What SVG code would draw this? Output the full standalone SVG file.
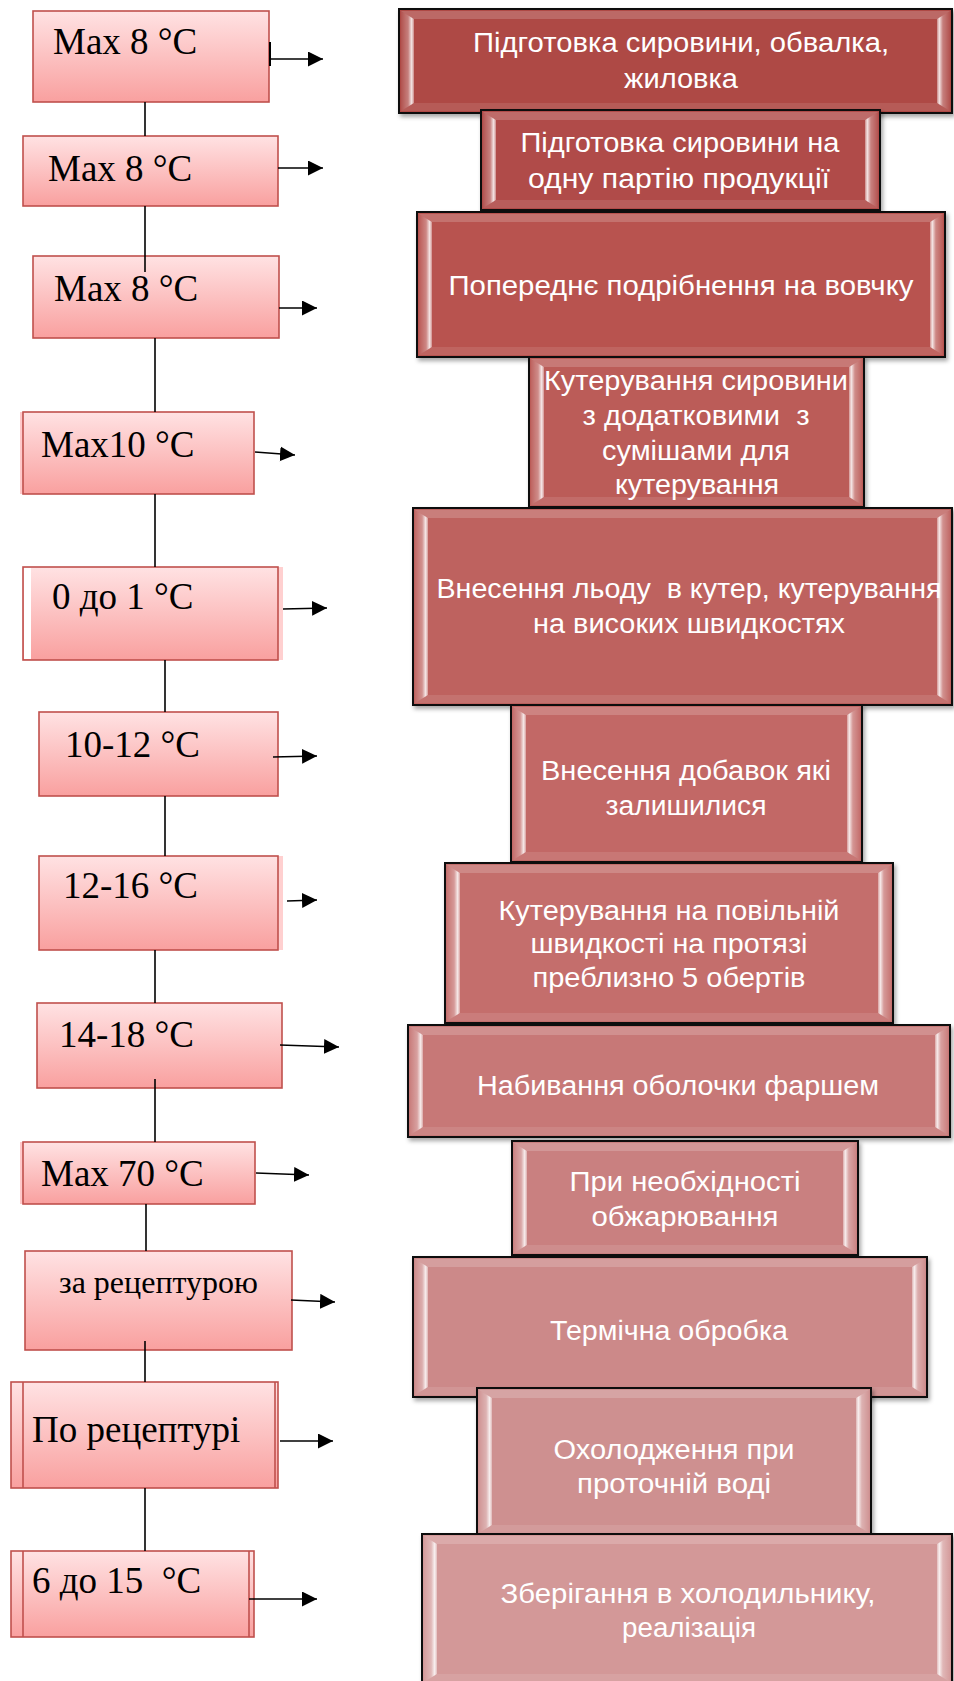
<svg xmlns="http://www.w3.org/2000/svg" width="954" height="1681" viewBox="0 0 954 1681">
<defs>
<linearGradient id="lg" x1="0" y1="0" x2="0" y2="1">
<stop offset="0" stop-color="#FFE2E3"/><stop offset="1" stop-color="#F9A09F"/>
</linearGradient>
<linearGradient id="bl" x1="0" y1="0" x2="1" y2="0">
<stop offset="0" stop-color="#fff" stop-opacity="0.05"/><stop offset="0.55" stop-color="#fff" stop-opacity="0.3"/><stop offset="0.82" stop-color="#fff" stop-opacity="0.85"/><stop offset="1" stop-color="#fff" stop-opacity="0.35"/>
</linearGradient>
<linearGradient id="br" x1="1" y1="0" x2="0" y2="0">
<stop offset="0" stop-color="#fff" stop-opacity="0.05"/><stop offset="0.55" stop-color="#fff" stop-opacity="0.3"/><stop offset="0.82" stop-color="#fff" stop-opacity="0.85"/><stop offset="1" stop-color="#fff" stop-opacity="0.35"/>
</linearGradient>
<filter id="sh" x="-5%" y="-5%" width="112%" height="115%">
<feDropShadow dx="2" dy="3" stdDeviation="2" flood-color="#000" flood-opacity="0.35"/>
</filter>
<marker id="ah" markerUnits="userSpaceOnUse" markerWidth="16" markerHeight="16" refX="15" refY="7.5" orient="auto">
<path d="M0,0 L15,7.5 L0,15 z" fill="#000"/>
</marker>
<style>
.lb{fill:url(#lg);stroke:#C0504D;stroke-width:1.6}
.lt{font-family:"Liberation Serif","Times New Roman",serif;font-size:37px;fill:#000;white-space:pre}
.ob{stroke:#111;stroke-width:2;filter:url(#sh)}
.bl{fill:url(#bl)}
.br{fill:url(#br)}
.bt{fill:#fff;fill-opacity:0.18}
.bb{fill:#fff;fill-opacity:0.1}
.rt{font-family:"Liberation Sans",Arial,sans-serif;font-size:27px;fill:#fff;text-anchor:middle;white-space:pre}
.cn{stroke:#000;stroke-width:1.6;fill:none}
.ar{stroke:#000;stroke-width:1.6;fill:none;marker-end:url(#ah)}
</style>
</defs>
<rect width="954" height="1681" fill="#fff"/>

<!-- right column process boxes -->
<g id="r1">
<g transform="translate(399,9)"><rect class="ob" width="553" height="104" fill="#AE4845"/>
<polygon class="bl" points="2,2 15,10 15,94 2,102"/><polygon class="br" points="551,2 538,10 538,94 551,102"/>
<polygon class="bt" points="2,2 551,2 538,10 15,10"/><polygon class="bb" points="2,102 551,102 538,94 15,94"/></g>
<text class="rt" x="681" y="52" textLength="416" lengthAdjust="spacingAndGlyphs">Підготовка сировини, обвалка,</text>
<text class="rt" x="681" y="88" textLength="114" lengthAdjust="spacingAndGlyphs">жиловка</text>
</g>
<g id="r2">
<g transform="translate(481,110)"><rect class="ob" width="399" height="100" fill="#B04B48"/>
<polygon class="bl" points="2,2 15,10 15,90 2,98"/><polygon class="br" points="397,2 384,10 384,90 397,98"/>
<polygon class="bt" points="2,2 397,2 384,10 15,10"/><polygon class="bb" points="2,98 397,98 384,90 15,90"/></g>
<text class="rt" x="680" y="152" textLength="319" lengthAdjust="spacingAndGlyphs">Підготовка сировини на</text>
<text class="rt" x="679" y="188" textLength="302" lengthAdjust="spacingAndGlyphs">одну партію продукції</text>
</g>
<g id="r3">
<g transform="translate(417,212)"><rect class="ob" width="528" height="145" fill="#B85350"/>
<polygon class="bl" points="2,2 15,10 15,135 2,143"/><polygon class="br" points="526,2 513,10 513,135 526,143"/>
<polygon class="bt" points="2,2 526,2 513,10 15,10"/><polygon class="bb" points="2,143 526,143 513,135 15,135"/></g>
<text class="rt" x="681" y="295" textLength="465" lengthAdjust="spacingAndGlyphs">Попереднє подрібнення на вовчку</text>
</g>
<g id="r4">
<g transform="translate(529,357)"><rect class="ob" width="335" height="150" fill="#BB5B58"/>
<polygon class="bl" points="2,2 15,10 15,140 2,148"/><polygon class="br" points="333,2 320,10 320,140 333,148"/>
<polygon class="bt" points="2,2 333,2 320,10 15,10"/><polygon class="bb" points="2,148 333,148 320,140 15,140"/></g>
<text class="rt" x="696" y="390" textLength="304" lengthAdjust="spacingAndGlyphs">Кутерування сировини</text>
<text class="rt" x="696" y="425" textLength="227" lengthAdjust="spacingAndGlyphs">з додатковими  з</text>
<text class="rt" x="696" y="460" textLength="188" lengthAdjust="spacingAndGlyphs">сумішами для</text>
<text class="rt" x="697" y="494" textLength="164" lengthAdjust="spacingAndGlyphs">кутерування</text>
</g>
<g id="r5">
<g transform="translate(413,508)"><rect class="ob" width="539" height="197" fill="#BE625F"/>
<polygon class="bl" points="2,2 15,10 15,187 2,195"/><polygon class="br" points="537,2 524,10 524,187 537,195"/>
<polygon class="bt" points="2,2 537,2 524,10 15,10"/><polygon class="bb" points="2,195 537,195 524,187 15,187"/></g>
<text class="rt" x="689" y="598" textLength="505" lengthAdjust="spacingAndGlyphs">Внесення льоду  в кутер, кутерування</text>
<text class="rt" x="689" y="633" textLength="312" lengthAdjust="spacingAndGlyphs">на високих швидкостях</text>
</g>
<g id="r6">
<g transform="translate(511,705)"><rect class="ob" width="351" height="157" fill="#C26866"/>
<polygon class="bl" points="2,2 15,10 15,147 2,155"/><polygon class="br" points="349,2 336,10 336,147 349,155"/>
<polygon class="bt" points="2,2 349,2 336,10 15,10"/><polygon class="bb" points="2,155 349,155 336,147 15,147"/></g>
<text class="rt" x="686" y="780" textLength="290" lengthAdjust="spacingAndGlyphs">Внесення добавок які</text>
<text class="rt" x="686" y="815" textLength="161" lengthAdjust="spacingAndGlyphs">залишилися</text>
</g>
<g id="r7">
<g transform="translate(445,863)"><rect class="ob" width="448" height="160" fill="#C46E6C"/>
<polygon class="bl" points="2,2 15,10 15,150 2,158"/><polygon class="br" points="446,2 433,10 433,150 446,158"/>
<polygon class="bt" points="2,2 446,2 433,10 15,10"/><polygon class="bb" points="2,158 446,158 433,150 15,150"/></g>
<text class="rt" x="669" y="920" textLength="341" lengthAdjust="spacingAndGlyphs">Кутерування на повільній</text>
<text class="rt" x="669" y="953" textLength="277" lengthAdjust="spacingAndGlyphs">швидкості на протязі</text>
<text class="rt" x="669" y="987" textLength="273" lengthAdjust="spacingAndGlyphs">преблизно 5 обертів</text>
</g>
<g id="r8">
<g transform="translate(408,1025)"><rect class="ob" width="542" height="112" fill="#C77877"/>
<polygon class="bl" points="2,2 15,10 15,102 2,110"/><polygon class="br" points="540,2 527,10 527,102 540,110"/>
<polygon class="bt" points="2,2 540,2 527,10 15,10"/><polygon class="bb" points="2,110 540,110 527,102 15,102"/></g>
<text class="rt" x="678" y="1095" textLength="402" lengthAdjust="spacingAndGlyphs">Набивання оболочки фаршем</text>
</g>
<g id="r9">
<g transform="translate(512,1141)"><rect class="ob" width="346" height="114" fill="#C98080"/>
<polygon class="bl" points="2,2 15,10 15,104 2,112"/><polygon class="br" points="344,2 331,10 331,104 344,112"/>
<polygon class="bt" points="2,2 344,2 331,10 15,10"/><polygon class="bb" points="2,112 344,112 331,104 15,104"/></g>
<text class="rt" x="685" y="1191" textLength="231" lengthAdjust="spacingAndGlyphs">При необхідності</text>
<text class="rt" x="685" y="1226" textLength="187" lengthAdjust="spacingAndGlyphs">обжарювання</text>
</g>
<g id="r10">
<g transform="translate(413,1257)"><rect class="ob" width="514" height="140" fill="#CC8989"/>
<polygon class="bl" points="2,2 15,10 15,130 2,138"/><polygon class="br" points="512,2 499,10 499,130 512,138"/>
<polygon class="bt" points="2,2 512,2 499,10 15,10"/><polygon class="bb" points="2,138 512,138 499,130 15,130"/></g>
<text class="rt" x="669" y="1340" textLength="238" lengthAdjust="spacingAndGlyphs">Термічна обробка</text>
</g>
<g id="r11">
<g transform="translate(477,1388)"><rect class="ob" width="394" height="147" fill="#CE9090"/>
<polygon class="bl" points="2,2 15,10 15,137 2,145"/><polygon class="br" points="392,2 379,10 379,137 392,145"/>
<polygon class="bt" points="2,2 392,2 379,10 15,10"/><polygon class="bb" points="2,145 392,145 379,137 15,137"/></g>
<text class="rt" x="674" y="1459" textLength="241" lengthAdjust="spacingAndGlyphs">Охолодження при</text>
<text class="rt" x="674" y="1493" textLength="194" lengthAdjust="spacingAndGlyphs">проточній воді</text>
</g>
<g id="r12">
<g transform="translate(422,1534)"><rect class="ob" width="530" height="150" fill="#D39898"/>
<polygon class="bl" points="2,2 15,10 15,140 2,148"/><polygon class="br" points="528,2 515,10 515,140 528,148"/>
<polygon class="bt" points="2,2 528,2 515,10 15,10"/><polygon class="bb" points="2,148 528,148 515,140 15,140"/></g>
<text class="rt" x="688" y="1603" textLength="375" lengthAdjust="spacingAndGlyphs">Зберігання в холодильнику,</text>
<text class="rt" x="689" y="1637" textLength="134" lengthAdjust="spacingAndGlyphs">реалізація</text>
</g>

<!-- left column temperature boxes -->
<g id="t1"><rect class="lb" x="33" y="11" width="236" height="91"/><text class="lt" x="53" y="54">Max 8 °C</text></g>
<g id="t2"><rect class="lb" x="23" y="136" width="255" height="70"/><text class="lt" x="48" y="181">Max 8 °C</text></g>
<g id="t3"><rect class="lb" x="33" y="256" width="246" height="82"/><text class="lt" x="54" y="301">Max 8 °C</text></g>
<g id="t4"><rect x="20" y="412" width="4" height="82" fill="#FFC9CA"/><rect class="lb" x="23" y="412" width="231" height="82"/><text class="lt" x="41" y="457">Max10 °C</text></g>
<g id="t5"><rect x="278" y="567" width="5" height="93" fill="#FFD0D0"/><rect class="lb" x="23" y="567" width="255" height="93"/><rect x="24" y="568" width="7" height="91" fill="#fff"/><text class="lt" x="52" y="609">0 до 1 °C</text></g>
<g id="t6"><rect class="lb" x="39" y="712" width="239" height="84"/><text class="lt" x="65" y="757">10-12 °C</text></g>
<g id="t7"><rect x="278" y="856" width="5" height="94" fill="#FFD0D0"/><rect class="lb" x="39" y="856" width="239" height="94"/><text class="lt" x="63" y="898">12-16 °C</text></g>
<g id="t8"><rect class="lb" x="37" y="1003" width="245" height="85"/><text class="lt" x="59" y="1047">14-18 °C</text></g>
<g id="t9"><rect x="20" y="1142" width="4" height="62" fill="#FFC9CA"/><rect class="lb" x="23" y="1142" width="232" height="62"/><text class="lt" x="41" y="1186">Max 70 °C</text></g>
<g id="t10"><rect class="lb" x="25" y="1251" width="267" height="99"/><text class="lt" x="59" y="1293" style="font-size:32px">за рецептурою</text></g>
<g id="t11"><rect class="lb" x="11" y="1382" width="267" height="106"/><line x1="23" y1="1382" x2="23" y2="1488" stroke="#C0504D" stroke-width="1.6"/><line x1="275" y1="1382" x2="275" y2="1488" stroke="#C0504D" stroke-width="1.6"/><text class="lt" x="32" y="1442">По рецептурі</text></g>
<g id="t12"><rect class="lb" x="11" y="1551" width="243" height="86"/><line x1="23" y1="1551" x2="23" y2="1637" stroke="#C0504D" stroke-width="1.6"/><line x1="249" y1="1551" x2="249" y2="1637" stroke="#C0504D" stroke-width="1.6"/><text class="lt" x="32" y="1593">6 до 15  °C</text></g>

<!-- connectors -->
<g id="connectors">
<line class="cn" x1="145" y1="102" x2="145" y2="136"/>
<line class="cn" x1="145" y1="206" x2="145" y2="272"/>
<line class="cn" x1="155" y1="338" x2="155" y2="412"/>
<line class="cn" x1="155" y1="494" x2="155" y2="567"/>
<line class="cn" x1="165" y1="660" x2="165" y2="712"/>
<line class="cn" x1="165" y1="796" x2="165" y2="856"/>
<line class="cn" x1="155" y1="950" x2="155" y2="1003"/>
<line class="cn" x1="155" y1="1079" x2="155" y2="1142"/>
<line class="cn" x1="146" y1="1204" x2="146" y2="1251"/>
<line class="cn" x1="145" y1="1341" x2="145" y2="1382"/>
<line class="cn" x1="145" y1="1488" x2="145" y2="1551"/>
<line class="cn" x1="270" y1="42" x2="270" y2="66" style="stroke-width:2"/>
<line class="ar" x1="270" y1="59" x2="323" y2="59"/>
<line class="ar" x1="278" y1="168" x2="323" y2="168"/>
<line class="ar" x1="279" y1="308" x2="317" y2="308"/>
<line class="ar" x1="255" y1="452" x2="295" y2="455"/>
<line class="ar" x1="283" y1="609" x2="327" y2="608"/>
<line class="ar" x1="273" y1="757" x2="317" y2="756"/>
<line class="ar" x1="287" y1="901" x2="317" y2="900"/>
<line class="ar" x1="280" y1="1045" x2="339" y2="1047"/>
<line class="ar" x1="256" y1="1173" x2="309" y2="1175"/>
<line class="ar" x1="291" y1="1300" x2="335" y2="1302"/>
<line class="ar" x1="280" y1="1441" x2="333" y2="1441"/>
<line class="ar" x1="249" y1="1599" x2="317" y2="1599"/>
</g>
</svg>
